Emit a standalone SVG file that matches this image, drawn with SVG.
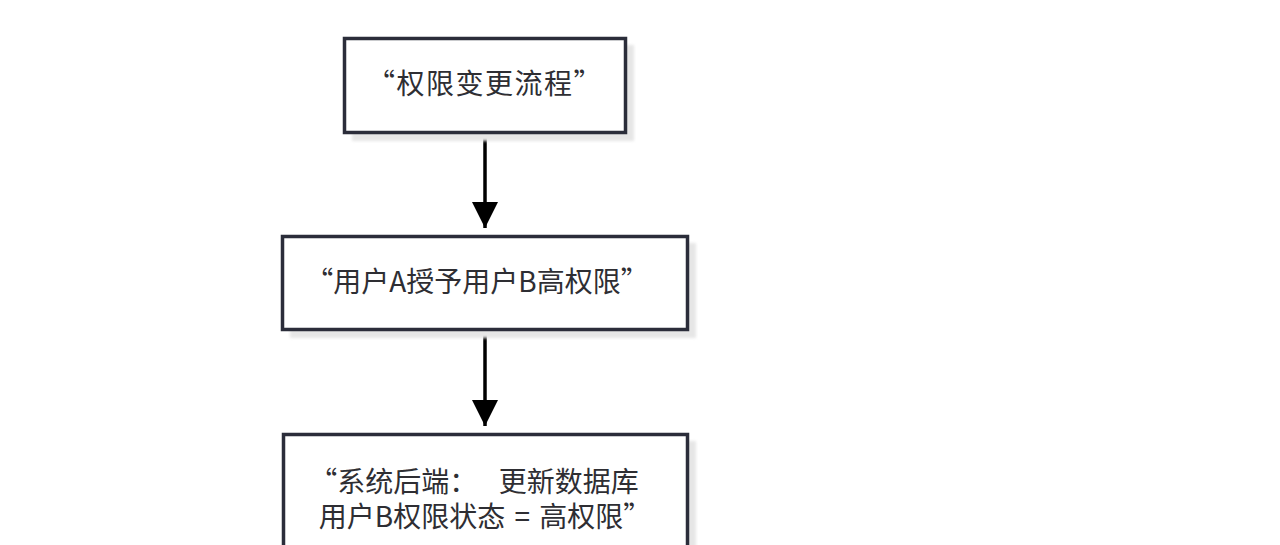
<svg xmlns="http://www.w3.org/2000/svg" width="1280" height="545" viewBox="0 0 1280 545">
<defs>
<style>
.shadow{fill:#e6e6e6;}
.box{fill:#ffffff;stroke:#2b2d3a;stroke-width:3.5;}
.lbl{font-family:"Noto Sans CJK SC","Noto Sans",sans-serif;font-size:28px;fill:#2e2e33;text-anchor:middle;}
.edge{stroke:#000000;stroke-width:3.5;fill:none;}
</style>
<marker id="arr" viewBox="0 0 10 10" refX="10" refY="5" markerWidth="7.5" markerHeight="7.5" markerUnits="strokeWidth" orient="auto">
<path d="M0,0 L10,5 L0,10 z" fill="#000000"/>
</marker>
<filter id="blur" x="-10%" y="-10%" width="120%" height="120%"><feGaussianBlur stdDeviation="1.5"/></filter>
</defs>
<rect width="1280" height="545" fill="#ffffff"/>
<g id="connectors">
<line class="edge" x1="485" y1="133" x2="485" y2="228" marker-end="url(#arr)"/>
<line class="edge" x1="485" y1="330" x2="485" y2="426" marker-end="url(#arr)"/>
</g>
<g id="node1">
<rect class="shadow" x="352" y="45" width="282" height="96" filter="url(#blur)"/>
<rect class="box" x="344.5" y="38.5" width="281" height="94"/>
<text class="lbl" x="485" y="94" letter-spacing="1.5">“权限变更流程”</text>
</g>
<g id="node2">
<rect class="shadow" x="290" y="243" width="406" height="95" filter="url(#blur)"/>
<rect class="box" x="282.5" y="236.5" width="405" height="93"/>
<text class="lbl" x="477" y="292">“用户A授予用户B高权限”</text>
</g>
<g id="node3">
<rect class="shadow" x="291" y="441" width="405" height="130" filter="url(#blur)"/>
<rect class="box" x="283.5" y="434.5" width="404" height="130"/>
<text class="lbl" x="474" y="492" xml:space="preserve">“系统后端： <tspan dx="15">更新数据库</tspan></text>
<text class="lbl" x="485" y="527" xml:space="preserve">用户B权限状态 <tspan dx="3">=</tspan> <tspan dx="3">高权限”</tspan></text>
</g>
</svg>
